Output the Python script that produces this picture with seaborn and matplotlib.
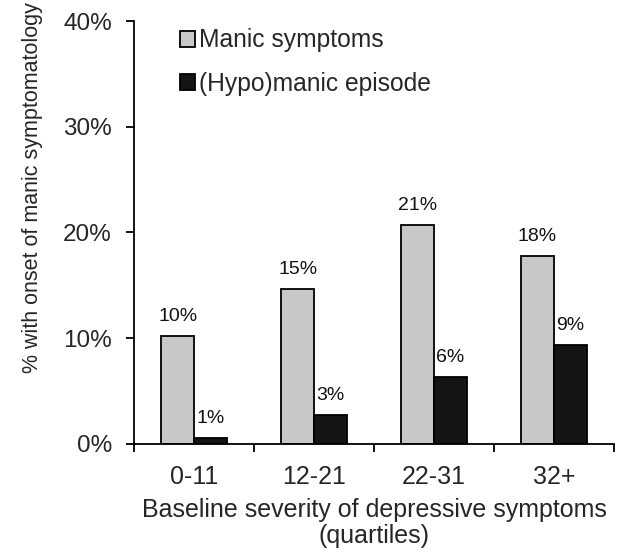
import pandas as pd
import matplotlib.pyplot as plt
import seaborn as sns
from matplotlib.ticker import FixedLocator

quartiles = ["0-11", "12-21", "22-31", "32+"]
manic_symptoms = [10.2, 14.6, 20.7, 17.8]
hypomanic_episode = [0.5, 2.7, 6.3, 9.3]
manic_labels = ["10%", "15%", "21%", "18%"]
hypomanic_labels = ["1%", "3%", "6%", "9%"]
series = ["Manic symptoms", "(Hypo)manic episode"]

df = pd.DataFrame({
    "quartile": quartiles * 2,
    "pct": manic_symptoms + hypomanic_episode,
    "series": [series[0]] * 4 + [series[1]] * 4,
})

sns.set_style("white")
plt.rcParams["font.family"] = ["Liberation Sans", "DejaVu Sans"]

fig = plt.figure(figsize=(6.18, 5.54), dpi=100)
ax = fig.add_axes([0.217, 0.199, 0.7765, 0.763])

sns.barplot(
    data=df, x="quartile", y="pct", hue="series",
    palette=["#c8c8c8", "#141414"], width=0.55,
    edgecolor="black", linewidth=1.3, ax=ax,
)

for container, labels in zip(ax.containers, [manic_labels, hypomanic_labels]):
    ax.bar_label(container, labels=labels, padding=8, fontsize=14, color="#111111")

ax.set_ylim(0, 40)
ax.set_xlim(-0.5, 3.5)
ax.set_yticks([0, 10, 20, 30, 40])
ax.set_yticklabels(["0%", "10%", "20%", "30%", "40%"], fontsize=17.5)
ax.set_xticklabels(quartiles, fontsize=18)
ax.tick_params(axis="x", which="major", length=0, pad=15)
ax.xaxis.set_minor_locator(FixedLocator([-0.5, 0.5, 1.5, 2.5, 3.5]))
ax.tick_params(axis="x", which="minor", bottom=True, length=6, width=1.3, color="black")
ax.tick_params(axis="y", left=True, length=6, width=1.3, color="black", pad=10)

ax.set_xlabel("Baseline severity of depressive symptoms\n(quartiles)", fontsize=18,
              labelpad=7, linespacing=1.08)
ax.set_ylabel("% with onset of manic symptomatology", fontsize=15.5)
ax.yaxis.set_label_coords(-0.19, 0.605)

sns.despine(ax=ax)
for side in ["left", "bottom"]:
    ax.spines[side].set_color("black")
    ax.spines[side].set_linewidth(1.3)

ax.legend(
    loc="upper left", bbox_to_anchor=(0.05, 1.035), frameon=False, fontsize=17.7,
    handlelength=0.6, handleheight=0.6, handletextpad=0.15, labelspacing=0.78,
)

fig.savefig("out.png", dpi=100)
